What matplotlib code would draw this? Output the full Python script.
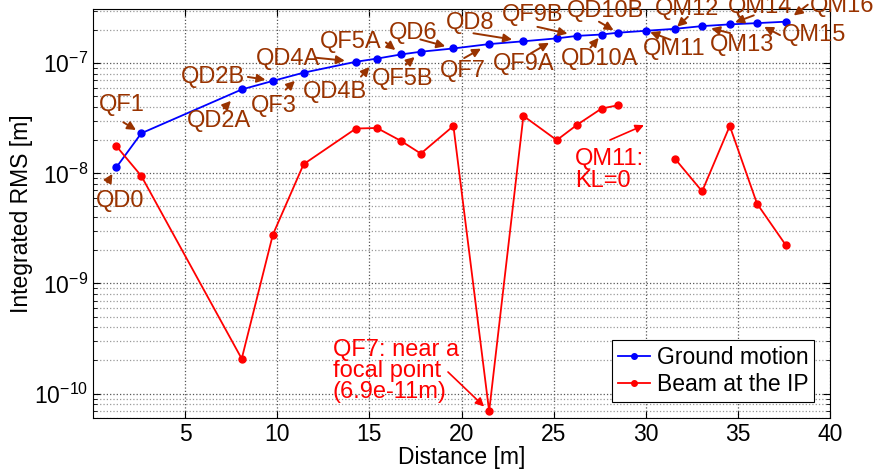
import matplotlib
matplotlib.use("Agg")
import matplotlib.pyplot as plt
import numpy as np
from matplotlib.ticker import LogLocator, NullFormatter

plt.rcParams['font.family'] = ['Liberation Sans', 'DejaVu Sans']

#----Data

# element names along the beamline
names = ["QD0", "QF1", "QD2A", "QD2B", "QF3", "QD4A", "QD4B", "QF5A", "QF5B",
         "QD6", "QF7", "QD8", "QF9A", "QF9B", "QD10A", "QD10B",
         "QM11", "QM12", "QM13", "QM14", "QM15", "QM16"]

# distance from the IP [m]
distance = [1.26, 2.62, 8.07, 9.76, 11.43, 14.27, 15.41, 16.71, 17.79,
            19.56, 21.50, 23.36, 25.17, 26.29, 27.60, 28.49,
            30.04, 31.58, 33.06, 34.56, 36.04, 37.60]

# integrated RMS of the ground motion [m]
groundMotion = [1.13e-8, 2.31e-8, 5.77e-8, 6.90e-8, 8.20e-8, 1.03e-7, 1.10e-7,
                1.20e-7, 1.27e-7, 1.36e-7, 1.49e-7, 1.58e-7, 1.68e-7, 1.77e-7,
                1.82e-7, 1.89e-7, 1.97e-7, 2.05e-7, 2.17e-7, 2.25e-7, 2.31e-7,
                2.38e-7]

# integrated RMS of the beam at the IP [m] (QM11 has KL=0 -> no value)
beamIP = [1.77e-8, 9.46e-9, 2.07e-10, 2.77e-9, 1.21e-8, 2.55e-8, 2.58e-8,
          1.97e-8, 1.51e-8, 2.69e-8, 6.9e-11, 3.32e-8, 2.00e-8, 2.77e-8,
          3.87e-8, 4.15e-8, np.nan, 1.36e-8, 6.86e-9, 2.69e-8, 5.3e-9,
          2.23e-9]

# label placement: text centre, arrow tail, arrow tip (pixel offsets from the point)
labelPos = [
    ((4, -34), (-9, -15), (-2, -5)),     # QD0
    ((-19, 28), (-18, 11), (-4, 2)),     # QF1
    ((-23, -32), (-18, -19), (-8, -8)),  # QD2A
    ((-60, 4), (-25, 4), (-5, 2)),       # QD2B
    ((-30, -33), (-18, -17), (-5, -7)),  # QF3
    ((-68, 3), (-40, 4), (-8, 1)),       # QD4A
    ((-42, -33), (-16, -18), (-4, -7)),  # QD4B
    ((-50, 12), (-15, 12), (-5, 1)),     # QF5A
    ((-18, -27), (-15, -13), (-3, -5)),  # QF5B
    ((-40, 15), (-33, 9), (-6, 1)),      # QD6
    ((-26, -27), (-25, -14), (-3, -6)),  # QF7
    ((-53, 18), (-50, 8), (-8, 2)),      # QD8
    ((-33, -26), (-26, -15), (-4, -5)),  # QF9A
    ((-45, 21), (-40, 9), (-7, 2)),      # QF9B
    ((-2, -24), (-11, -13), (-1, -3)),   # QD10A
    ((-12, 22), (-19, 11), (-2, 3)),     # QD10B
    ((28, -18), (24, -9), (2, -2)),      # QM11
    ((12, 20), (13, 12), (1, 2)),        # QM12
    ((40, -19), (28, -7), (6, -3)),      # QM13
    ((30, 17), (24, 9), (4, 1)),         # QM14
    ((57, -12), (23, -12), (3, -5)),     # QM15
    ((56, 16), (22, 17), (7, 2)),        # QM16
]

brown = '#993300'
H = 469  # figure height in pixels, for top-down placement of the notes


def createPlot():

    fig = plt.figure(figsize=(8.81, 4.69), dpi=100)
    ax = fig.add_axes([0.1056, 0.1087, 0.8365, 0.872])

    ax.semilogy(distance, groundMotion, '-o', color='#0000ff', lw=1.3, ms=5,
                label='Ground motion', zorder=3)
    ax.semilogy(distance, beamIP, '-o', color='#ff0000', lw=1.3, ms=5,
                label='Beam at the IP', zorder=3)

    ax.set_xlim(0, 40)
    ax.set_ylim(6e-11, 3.1e-7)
    ax.set_xticks(np.arange(5, 41, 5))
    ax.yaxis.set_major_locator(LogLocator(base=10, numticks=10))
    ax.yaxis.set_minor_locator(LogLocator(base=10, subs=np.arange(2, 10), numticks=20))
    ax.yaxis.set_minor_formatter(NullFormatter())

    ax.tick_params(which='both', direction='in', top=True, right=True, labelsize=16.5)
    ax.tick_params(which='major', length=5)
    ax.tick_params(which='minor', length=3)

    ax.grid(True, which='major', axis='both', linestyle=':', color='#555555', lw=0.9)
    ax.grid(True, which='minor', axis='y', linestyle=':', color='#999999', lw=0.9)

    ax.set_xlabel('Distance [m]', fontsize=16.5, labelpad=0)
    ax.set_ylabel('Integrated RMS [m]', fontsize=16.5, labelpad=1)

    arrowStyle = '-|>,head_length=0.5,head_width=0.25'

    # quadrupole labels with arrows
    for i, name in enumerate(names):
        pt = (distance[i], groundMotion[i])
        txt, tail, tip = labelPos[i]
        ax.annotate(name, xy=pt, xytext=txt, textcoords='offset pixels',
                    ha='center', va='center', fontsize=17, color=brown,
                    annotation_clip=False, zorder=4)
        ax.annotate('', xy=pt, xycoords='data',
                    xytext=tail, textcoords='offset pixels',
                    arrowprops=dict(arrowstyle=arrowStyle, color=brown, lw=1.4,
                                    shrinkA=0, shrinkB=np.hypot(*tip)),
                    annotation_clip=False, zorder=4)

    # red notes
    iQF7 = names.index('QF7')
    ax.text(333, H - 371, 'QF7: near a\nfocal point\n(6.9e-11m)', transform=None,
            ha='left', va='center', fontsize=17, color='#ff0000',
            linespacing=0.95, zorder=4)
    ax.annotate('', xy=(distance[iQF7], beamIP[iQF7]),
                xytext=(448, H - 372), textcoords='figure pixels',
                arrowprops=dict(arrowstyle=arrowStyle, color='#ff0000', lw=1.2,
                                shrinkA=0, shrinkB=5),
                zorder=4)

    iQM11 = names.index('QM11')
    ax.text(575, H - 170, 'QM11:\nKL=0', transform=None, ha='left', va='center',
            fontsize=17, color='#ff0000', linespacing=1.0, zorder=4)
    ax.annotate('', xy=(distance[iQM11], 2.8e-8),
                xytext=(610, H - 140), textcoords='figure pixels',
                arrowprops=dict(arrowstyle=arrowStyle, color='#ff0000', lw=1.2,
                                shrinkA=0, shrinkB=2),
                zorder=4)

    leg = ax.legend(loc='lower right', fontsize=16.5, fancybox=False, framealpha=1,
                    edgecolor='black', borderpad=0.25, labelspacing=0.2,
                    handlelength=1.4, handletextpad=0.3, borderaxespad=0.7,
                    markerscale=0.8)
    leg.get_frame().set_linewidth(0.8)

    for s in ax.spines.values():
        s.set_linewidth(0.8)

    fig.savefig('out.png', dpi=100)


def main():
    createPlot()


if __name__ == "__main__":
    main()
